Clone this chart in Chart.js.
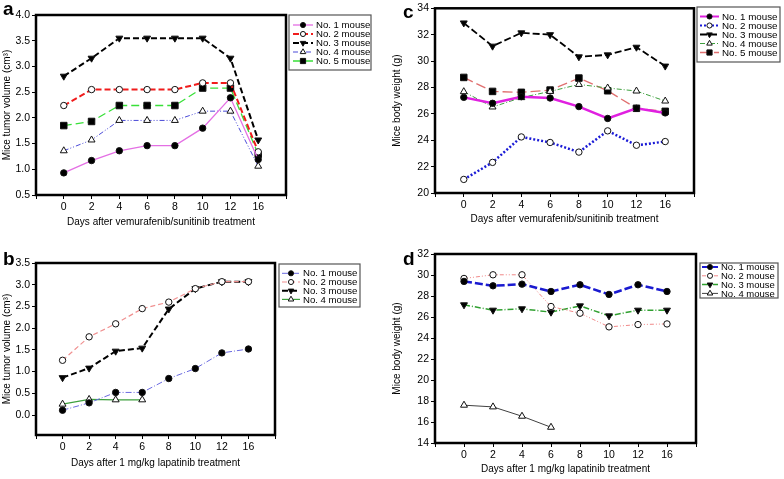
<!DOCTYPE html>
<html>
<head>
<meta charset="utf-8">
<script src="https://cdn.jsdelivr.net/npm/chart.js@4.4.0/dist/chart.umd.min.js"></script>
<style>
  body { margin: 0; background: #fff; width: 784px; height: 479px; position: relative; overflow: hidden; }
  .panel { position: absolute; }
</style>
</head>
<body>
<div class="panel" style="left:0;top:0;width:390px;height:240px"><canvas id="chartA"></canvas></div>
<div class="panel" style="left:390px;top:0;width:394px;height:240px"><canvas id="chartC"></canvas></div>
<div class="panel" style="left:0;top:240px;width:390px;height:239px"><canvas id="chartB"></canvas></div>
<div class="panel" style="left:390px;top:240px;width:394px;height:239px"><canvas id="chartD"></canvas></div>
<script>
'use strict';

// x軸（処理後の日数）
var days = ['0', '2', '4', '6', '8', '10', '12', '16'];
var xPos = [-1, 0, 1, 2, 3, 4, 5, 6, 7, 8];

// a: 腫瘍体積 vemurafenib/sunitinib
var volA1 = [0.93, 1.17, 1.36, 1.46, 1.46, 1.80, 2.39, 1.19];
var volA2 = [2.24, 2.55, 2.55, 2.55, 2.55, 2.68, 2.68, 1.34];
var volA3 = [2.81, 3.16, 3.55, 3.55, 3.55, 3.55, 3.16, 1.57];
var volA4 = [1.36, 1.57, 1.95, 1.95, 1.95, 2.13, 2.13, 1.06];
var volA5 = [1.85, 1.93, 2.24, 2.24, 2.24, 2.58, 2.58, 1.29];
var ticksA = [0.5, 1.0, 1.5, 2.0, 2.5, 3.0, 3.5, 4.0];

// c: 体重 vemurafenib/sunitinib
var wtC1 = [27.25, 26.8, 27.3, 27.2, 26.55, 25.65, 26.42, 26.07];
var wtC2 = [21.03, 22.32, 24.25, 23.83, 23.1, 24.71, 23.62, 23.9];
var wtC3 = [32.89, 31.13, 32.14, 32.0, 30.32, 30.47, 31.05, 29.62];
var wtC4 = [27.68, 26.52, 27.23, 27.7, 28.23, 27.96, 27.73, 26.97];
var wtC5 = [28.76, 27.7, 27.63, 27.8, 28.71, 27.75, 26.42, 26.19];
var ticksC = [20, 22, 24, 26, 28, 30, 32, 34];

// b: 腫瘍体積 lapatinib
var volB1 = [0.11, 0.28, 0.52, 0.52, 0.84, 1.07, 1.43, 1.52];
var volB2 = [1.26, 1.80, 2.10, 2.45, 2.60, 2.91, 3.07, 3.07];
var volB3 = [0.86, 1.08, 1.47, 1.54, 2.44, 2.91, 3.07, 3.07];
var volB4 = [0.25, 0.36, 0.35, 0.35, null, null, null, null];
var ticksB = [0.0, 0.5, 1.0, 1.5, 2.0, 2.5, 3.0, 3.5];

// d: 体重 lapatinib
var wtD1 = [29.39, 28.97, 29.13, 28.43, 29.07, 28.15, 29.07, 28.43];
var wtD2 = [29.67, 30.02, 30.02, 27.0, 26.36, 25.06, 25.28, 25.34];
var wtD3 = [27.16, 26.65, 26.78, 26.46, 27.06, 26.11, 26.65, 26.65];
var wtD4 = [17.6, 17.44, 16.55, 15.5, null, null, null, null];
var ticksD = [14, 16, 18, 20, 22, 24, 26, 28, 30, 32];

var FONT = '"Liberation Sans", Arial, sans-serif';

//マーカー描画（凡例用）
function drawMark(ctx, ds, x, y) {
  var r = ds.pointRadius * 0.8;
  ctx.save();
  ctx.setLineDash([]);
  ctx.fillStyle = ds.pointBackgroundColor;
  ctx.strokeStyle = ds.pointBorderColor;
  ctx.lineWidth = 1;
  ctx.beginPath();
  if (ds.pointStyle === 'circle') {
    ctx.arc(x, y, r, 0, Math.PI * 2);
  } else if (ds.pointStyle === 'rect') {
    var s = r * Math.SQRT1_2;
    ctx.rect(x - s, y - s, s * 2, s * 2);
  } else {
    var d = ds.pointRotation ? -1 : 1;
    ctx.moveTo(x, y - r * d);
    ctx.lineTo(x + r * 0.866, y + r * 0.5 * d);
    ctx.lineTo(x - r * 0.866, y + r * 0.5 * d);
    ctx.closePath();
  }
  ctx.fill();
  ctx.stroke();
  ctx.restore();
}

//凡例・枠・パネル記号
var boxPlugin = {
  id: 'boxPlugin',
  afterDraw: function(chart, args, o) {
    var ctx = chart.ctx;
    var a = chart.chartArea;
    ctx.save();
    // plot frame
    ctx.strokeStyle = '#000';
    ctx.lineWidth = 2.5;
    ctx.setLineDash([]);
    ctx.strokeRect(a.left, a.top, a.right - a.left, a.bottom - a.top);
    // legend box
    ctx.fillStyle = '#fff';
    ctx.fillRect(o.x, o.y, o.w, o.h);
    ctx.strokeStyle = '#555';
    ctx.lineWidth = 1.2;
    ctx.strokeRect(o.x, o.y, o.w, o.h);
    chart.data.datasets.forEach(function(ds, i) {
      var y = o.row0 + i * o.step;
      ctx.strokeStyle = ds.borderColor;
      ctx.lineWidth = Math.min(ds.borderWidth, 2);
      ctx.setLineDash(ds.borderDash || []);
      ctx.beginPath();
      ctx.moveTo(o.l0, y);
      ctx.lineTo(o.l1, y);
      ctx.stroke();
      drawMark(ctx, ds, (o.l0 + o.l1) / 2, y);
      ctx.fillStyle = '#000';
      ctx.font = o.fs + 'px ' + FONT;
      ctx.textBaseline = 'middle';
      ctx.fillText(ds.label, o.tx, y + 0.5);
    });
    // panel letter
    ctx.font = 'bold 19px ' + FONT;
    ctx.textBaseline = 'alphabetic';
    ctx.fillStyle = '#000';
    ctx.fillText(o.tag, o.tagX, o.tagY);
    ctx.restore();
  }
};

function series(label, values, style) {
  return {
    label: label,
    data: values.map(function(v, i) { return { x: i, y: v }; }),
    borderColor: style.color,
    borderWidth: style.width,
    borderDash: style.dash,
    pointStyle: style.mark,
    pointRotation: style.rot || 0,
    pointRadius: style.mark === 'circle' ? 3.2 : (style.mark === 'rect' ? 4.6 : 4),
    pointBackgroundColor: style.fill,
    pointBorderColor: '#111',
    pointBorderWidth: 1,
    tension: 0,
    fill: false,
    spanGaps: false
  };
}

function makeChart(id, sets, yTicks, yMin, yMax, dec, yTitle, xTitle, lay, legend) {
  var tickFont = { family: FONT, size: 10.5 };
  var titleFont = { family: FONT, size: 10 };
  return new Chart(document.getElementById(id), {
    type: 'line',
    data: { datasets: sets },
    options: {
      responsive: true,
      maintainAspectRatio: false,
      animation: false,
      layout: { padding: { left: 0, right: lay.r, top: lay.t, bottom: lay.b } },
      plugins: { legend: { display: false }, tooltip: { enabled: false }, boxPlugin: legend },
      scales: {
        x: {
          type: 'linear', min: -1, max: 8,
          afterBuildTicks: function(s) { s.ticks = xPos.map(function(v) { return { value: v }; }); },
          afterFit: function(s) { s.height = lay.xh; },
          ticks: { autoSkip: false, maxRotation: 0, padding: 2, color: '#000', font: tickFont,
            callback: function(v) { return days[v] || ''; } },
          grid: { drawOnChartArea: false, tickLength: 4, color: '#000' },
          border: { display: false },
          title: { display: true, text: xTitle, color: '#000', font: titleFont, padding: { top: 2, bottom: 4 } }
        },
        y: {
          min: yMin, max: yMax,
          afterBuildTicks: function(s) { s.ticks = yTicks.map(function(v) { return { value: v }; }); },
          afterFit: function(s) { s.width = lay.yw; },
          ticks: { padding: 2, color: '#000', font: tickFont,
            callback: function(v) { return v.toFixed(dec); } },
          grid: { drawOnChartArea: false, tickLength: 4, color: '#000' },
          border: { display: false },
          title: { display: true, text: yTitle, color: '#000', font: titleFont, padding: { top: 1, bottom: 1 } }
        }
      }
    },
    plugins: [boxPlugin]
  });
}

// a
makeChart('chartA', [
  series('No. 1 mouse', volA1, { color: '#e46fe4', width: 1.3, dash: [], mark: 'circle', fill: '#000' }),
  series('No. 2 mouse', volA2, { color: '#f01c1c', width: 2, dash: [6, 3], mark: 'circle', fill: '#fff' }),
  series('No. 3 mouse', volA3, { color: '#000', width: 2, dash: [6, 3], mark: 'triangle', rot: 180, fill: '#000' }),
  series('No. 4 mouse', volA4, { color: '#4a4ad8', width: 1, dash: [5, 2, 1, 2, 1, 2], mark: 'triangle', fill: '#fff' }),
  series('No. 5 mouse', volA5, { color: '#38e038', width: 1.3, dash: [8, 4], mark: 'rect', fill: '#000' })
], ticksA, 0.5, 4.0, 1, 'Mice tumor volume (cm³)', 'Days after vemurafenib/sunitinib treatment',
  { r: 104, t: 15, b: 8, xh: 37, yw: 36 },
  { x: 289, y: 15, w: 82, h: 55, row0: 25, step: 9, l0: 293, l1: 313, tx: 316, fs: 9.6, tag: 'a', tagX: 3, tagY: 15 });

// c
makeChart('chartC', [
  series('No. 1 mouse', wtC1, { color: '#e020e0', width: 2.5, dash: [], mark: 'circle', fill: '#000' }),
  series('No. 2 mouse', wtC2, { color: '#1a1ad6', width: 2.5, dash: [2, 2], mark: 'circle', fill: '#fff' }),
  series('No. 3 mouse', wtC3, { color: '#000', width: 1.8, dash: [7, 3], mark: 'triangle', rot: 180, fill: '#000' }),
  series('No. 4 mouse', wtC4, { color: '#3ea03e', width: 1, dash: [5, 2, 1, 2], mark: 'triangle', fill: '#fff' }),
  series('No. 5 mouse', wtC5, { color: '#e07070', width: 1.3, dash: [10, 4], mark: 'rect', fill: '#000' })
], ticksC, 20, 34, 0, 'Mice body weight (g)', 'Days after vemurafenib/sunitinib treatment',
  { r: 90, t: 6, b: 11, xh: 36, yw: 45 },
  { x: 307, y: 7, w: 83, h: 55, row0: 16.5, step: 9, l0: 310, l1: 329, tx: 332, fs: 9.8, tag: 'c', tagX: 13, tagY: 18 });

// b
makeChart('chartB', [
  series('No. 1 mouse', volB1, { color: '#6a6ae0', width: 1, dash: [6, 2, 1, 2], mark: 'circle', fill: '#000' }),
  series('No. 2 mouse', volB2, { color: '#f09090', width: 1.2, dash: [5, 3], mark: 'circle', fill: '#fff' }),
  series('No. 3 mouse', volB3, { color: '#000', width: 2, dash: [6, 3], mark: 'triangle', rot: 180, fill: '#000' }),
  series('No. 4 mouse', volB4, { color: '#3ea03e', width: 1.2, dash: [], mark: 'triangle', fill: '#fff' })
], ticksB, -0.46, 3.5, 1, 'Mice tumor volume (cm³)', 'Days after 1 mg/kg lapatinib treatment',
  { r: 115, t: 23, b: 6, xh: 38, yw: 36 },
  { x: 279, y: 24, w: 81, h: 43, row0: 33.3, step: 8.7, l0: 282, l1: 300, tx: 303, fs: 9.6, tag: 'b', tagX: 3, tagY: 25 });

// d
makeChart('chartD', [
  series('No. 1 mouse', wtD1, { color: '#1a1ad0', width: 2.5, dash: [8, 3], mark: 'circle', fill: '#000' }),
  series('No. 2 mouse', wtD2, { color: '#f08888', width: 1, dash: [4, 2, 1, 2, 1, 2], mark: 'circle', fill: '#fff' }),
  series('No. 3 mouse', wtD3, { color: '#30a030', width: 1.5, dash: [6, 2, 1, 2], mark: 'triangle', rot: 180, fill: '#000' }),
  series('No. 4 mouse', wtD4, { color: '#404040', width: 1, dash: [], mark: 'triangle', fill: '#fff' })
], ticksD, 14, 32, 0, 'Mice body weight (g)', 'Days after 1 mg/kg lapatinib treatment',
  { r: 88, t: 14, b: 0, xh: 36, yw: 45 },
  { x: 310, y: 23, w: 78, h: 35, row0: 27, step: 8.8, l0: 312, l1: 328, tx: 331, fs: 9.5, tag: 'd', tagX: 13, tagY: 25 });
</script>
</body>
</html>
